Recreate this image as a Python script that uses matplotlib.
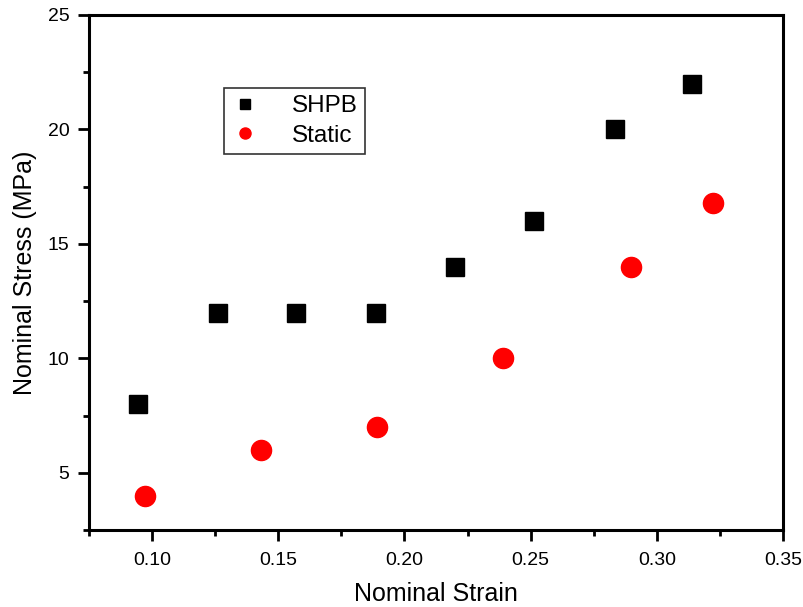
import matplotlib
matplotlib.use("Agg")
import matplotlib.pyplot as plt
from matplotlib.ticker import MultipleLocator

# values
shpb_strain = [0.0943, 0.1263, 0.1569, 0.1887, 0.2202, 0.2515, 0.2834, 0.3141]
shpb_stress = [8, 12, 12, 12, 14, 16, 20, 22]
static_strain = [0.0972, 0.1431, 0.1893, 0.2389, 0.2898, 0.3222]
static_stress = [4, 6, 7, 10, 14, 16.8]

plt.rcParams["font.family"] = ["Liberation Sans", "DejaVu Sans"]

fig = plt.figure(figsize=(8.04, 6.07), dpi=100)
ax = fig.add_axes([89 / 804, 1 - 530 / 607, (783 - 89) / 804, (530 - 15) / 607])

ax.plot(shpb_strain, shpb_stress, "s", color="black", markersize=13, label="SHPB")
ax.plot(static_strain, static_stress, "o", color="red", markersize=14.5, label="Static")

ax.set_xlim(0.075, 0.35)
ax.set_ylim(2.5, 25)
ax.xaxis.set_major_locator(MultipleLocator(0.05))
ax.xaxis.set_minor_locator(MultipleLocator(0.025))
ax.yaxis.set_major_locator(MultipleLocator(5))
ax.yaxis.set_minor_locator(MultipleLocator(2.5))
ax.set_xticks([0.10, 0.15, 0.20, 0.25, 0.30, 0.35])
ax.set_xticklabels(["0.10", "0.15", "0.20", "0.25", "0.30", "0.35"])
ax.set_yticks([5, 10, 15, 20, 25])

for sp in ax.spines.values():
    sp.set_linewidth(2.2)
ax.tick_params(which="major", direction="out", length=8, width=2, labelsize=14, pad=6)
ax.tick_params(which="minor", direction="out", length=4.5, width=2)
ax.tick_params(axis="x", which="major", pad=8)

ax.set_xlabel("Nominal Strain", fontsize=18, labelpad=9)
ax.set_ylabel("Nominal Stress (MPa)", fontsize=18, labelpad=8)

leg = ax.legend(loc="upper left", bbox_to_anchor=(224 / 804, 1 - 88 / 607),
                bbox_transform=fig.transFigure, borderaxespad=0, fontsize=17.5,
                fancybox=False, frameon=True, edgecolor="black", markerscale=0.55,
                handlelength=1.1, handletextpad=1.4, borderpad=0.3, labelspacing=0.3)
leg.get_frame().set_linewidth(1.2)

fig.savefig("out.png", dpi=100)
